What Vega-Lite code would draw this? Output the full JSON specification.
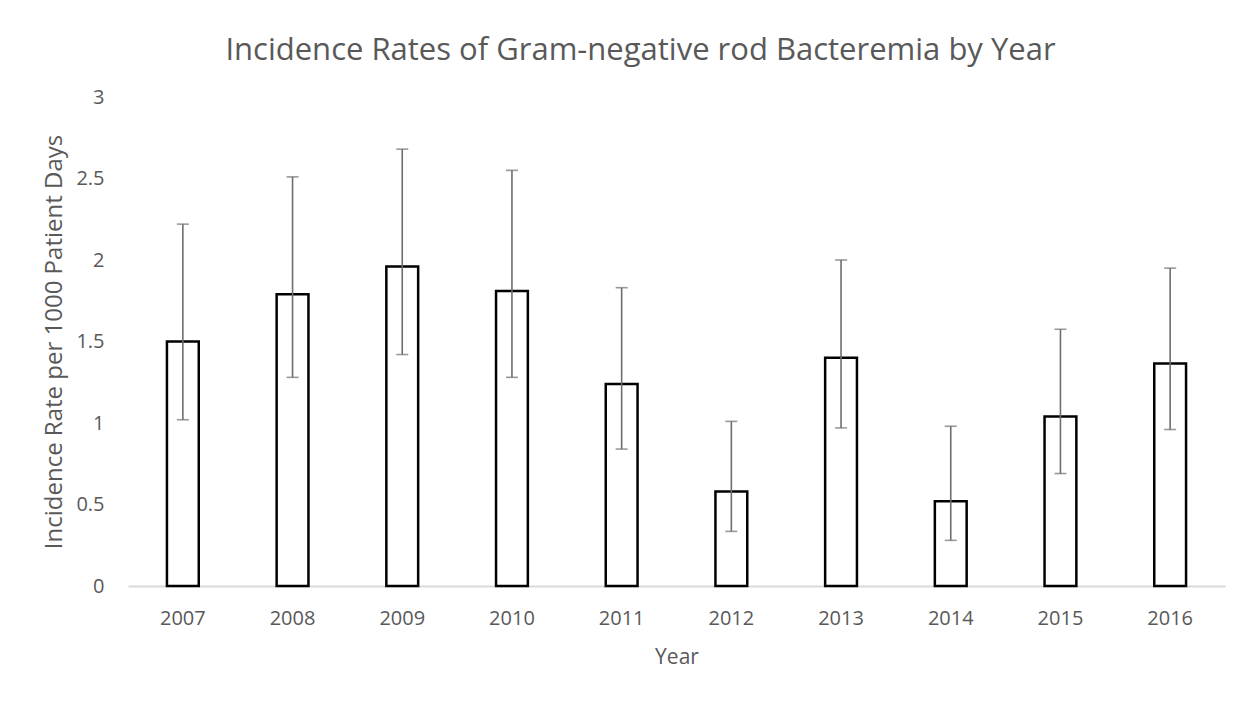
{
  "$schema": "https://vega.github.io/schema/vega-lite/v6.json",
  "autosize": {"type": "none"},
  "width": 1097,
  "height": 489,
  "padding": {"left": 128, "top": 97, "right": 24, "bottom": 118},
  "background": "white",
  "config": {
    "view": {"stroke": null},
    "font": "Open Sans",
    "axis": {"labelColor": "#595959", "titleColor": "#595959", "labelFont": "Open Sans", "titleFont": "Open Sans", "titleFontWeight": "normal"}
  },
  "title": {
    "text": "Incidence Rates of Gram-negative rod Bacteremia by Year",
    "fontSize": 31,
    "fontWeight": "normal",
    "color": "#595959",
    "font": "Open Sans",
    "dx": -36,
    "offset": 20
  },
  "data": {
    "values": [
      {"Year": "2007", "rate": 1.50, "lo": 1.02, "hi": 2.22},
      {"Year": "2008", "rate": 1.79, "lo": 1.28, "hi": 2.51},
      {"Year": "2009", "rate": 1.96, "lo": 1.42, "hi": 2.68},
      {"Year": "2010", "rate": 1.81, "lo": 1.28, "hi": 2.55},
      {"Year": "2011", "rate": 1.24, "lo": 0.84, "hi": 1.83},
      {"Year": "2012", "rate": 0.58, "lo": 0.335, "hi": 1.01},
      {"Year": "2013", "rate": 1.40, "lo": 0.97, "hi": 2.00},
      {"Year": "2014", "rate": 0.52, "lo": 0.28, "hi": 0.98},
      {"Year": "2015", "rate": 1.04, "lo": 0.69, "hi": 1.575},
      {"Year": "2016", "rate": 1.365, "lo": 0.96, "hi": 1.95}
    ]
  },
  "encoding": {
    "x": {
      "field": "Year", "type": "nominal",
      "scale": {"paddingInner": 0, "paddingOuter": 0},
      "axis": {"labelAngle": 0, "labelFontSize": 20, "titleFontSize": 21, "domainColor": "#d9d9d9", "domainWidth": 2, "ticks": false, "labelPadding": 22, "titlePadding": 18, "title": "Year"}
    }
  },
  "layer": [
    {
      "mark": {"type": "bar", "fill": "white", "stroke": "black", "strokeWidth": 2.5, "width": {"band": 0.29}},
      "encoding": {
        "y": {
          "field": "rate", "type": "quantitative",
          "scale": {"domain": [0, 3]},
          "axis": {"values": [0, 0.5, 1, 1.5, 2, 2.5, 3], "format": "~g", "grid": false, "domain": false, "ticks": false, "labelFontSize": 20, "titleFontSize": 24, "labelPadding": 24, "titlePadding": 9, "title": "Incidence Rate per 1000 Patient Days"}
        }
      }
    },
    {
      "mark": {"type": "rule", "color": "#6e6e6e", "strokeWidth": 1.6},
      "encoding": {
        "y": {"field": "lo", "type": "quantitative"},
        "y2": {"field": "hi"}
      }
    },
    {
      "mark": {"type": "tick", "color": "#6e6e6e", "thickness": 1.6, "size": 12},
      "encoding": {"y": {"field": "lo", "type": "quantitative"}}
    },
    {
      "mark": {"type": "tick", "color": "#6e6e6e", "thickness": 1.6, "size": 12},
      "encoding": {"y": {"field": "hi", "type": "quantitative"}}
    }
  ]
}
